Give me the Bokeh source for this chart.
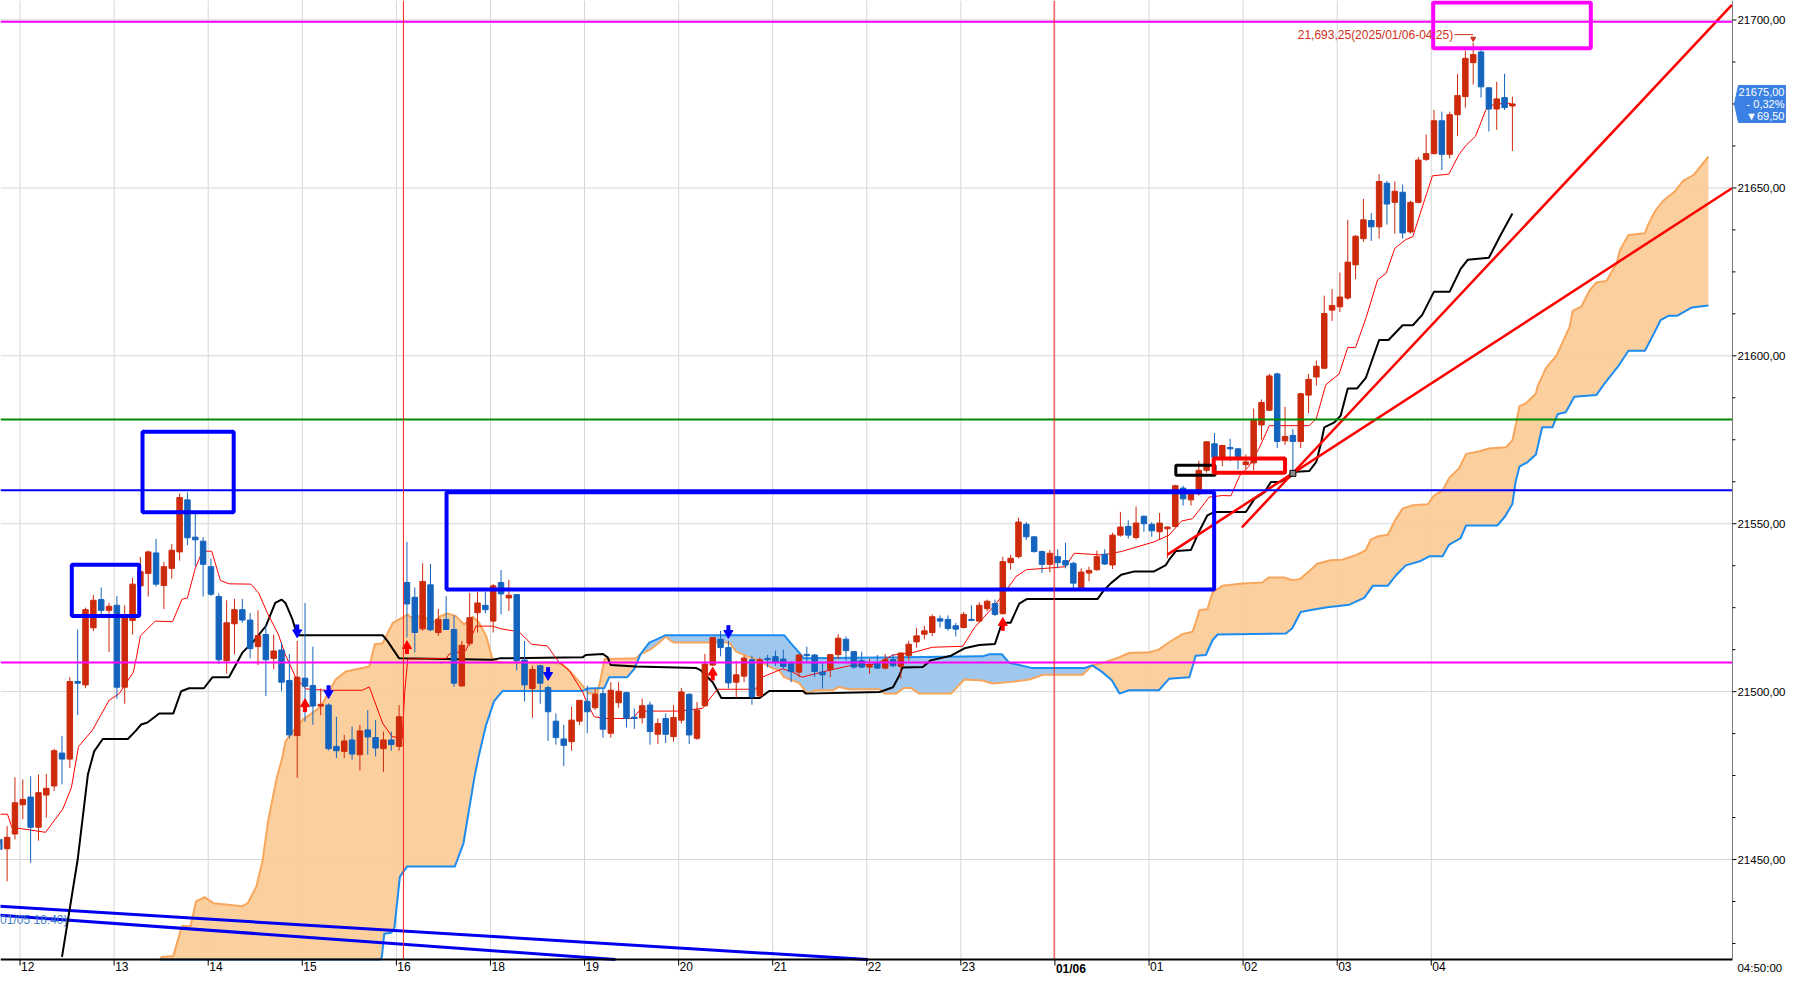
from bokeh.plotting import figure
from bokeh.models import Range1d, ColumnDataSource
from bokeh.core.properties import value
from bokeh.embed import file_html
from bokeh.resources import INLINE

FONT = "Liberation Sans"

# 5-minute bars, bar 0 = 12:00, first visible bar = -4
FIRST_BAR = -4
OPEN = [21454.5, 21456.0, 21453.2, 21457.6, 21466.3, 21468.6, 21459.6, 21469.2, 21471.9, 21481.7,
        21479.9, 21503.0, 21502.0, 21519.0, 21527.4, 21524.2, 21525.7, 21501.3, 21521.2, 21531.5,
        21535.2, 21541.3, 21531.6, 21536.7, 21541.6, 21557.1, 21546.0, 21544.8, 21537.2, 21528.3,
        21509.2, 21520.2, 21524.4, 21521.3, 21513.4, 21517.0, 21509.9, 21512.4, 21503.3, 21486.9,
        21504.0, 21501.8, 21495.7, 21496.0, 21483.7, 21482.2, 21485.6, 21481.2, 21488.6, 21486.3,
        21483.0, 21485.6, 21483.7, 21532.5, 21528.1, 21518.7, 21531.8, 21517.6, 21521.5, 21518.5,
        21501.7, 21514.4, 21523.5, 21525.7, 21521.0, 21532.5, 21527.9, 21528.9, 21509.4, 21500.9,
        21507.7, 21501.2, 21491.2, 21485.9, 21485.1, 21491.2, 21497.1, 21495.2, 21499.4, 21487.6,
        21496.7, 21499.7, 21492.4, 21492.2, 21496.0, 21487.3, 21492.0, 21486.6, 21491.5, 21499.2,
        21486.1, 21495.8, 21507.9, 21515.6, 21513.1, 21502.8, 21504.6, 21509.5, 21498.7, 21509.9,
        21510.4, 21509.7, 21508.7, 21505.8, 21511.1, 21510.9, 21505.8, 21506.6, 21511.0, 21515.6,
        21511.9, 21509.2, 21507.3, 21508.7, 21507.0, 21509.5, 21507.5, 21510.7, 21514.8, 21517.1,
        21517.6, 21521.7, 21521.5, 21519.6, 21519.1, 21521.5, 21521.0, 21524.7, 21526.2, 21523.2,
        21538.4, 21540.2, 21549.8, 21546.1, 21541.7, 21537.9, 21540.2, 21539.0, 21538.2, 21530.6,
        21535.3, 21536.3, 21540.9, 21537.7, 21546.6, 21549.2, 21545.9, 21552.2, 21549.8, 21547.6,
        21548.5, 21549.2, 21560.6, 21557.1, 21558.9, 21565.9, 21573.8, 21569.8, 21572.7, 21572.3,
        21567.6, 21568.1, 21579.4, 21583.8, 21594.6, 21574.7, 21576.3, 21574.5, 21588.3, 21593.7,
        21596.3, 21613.6, 21614.6, 21617.2, 21627.1, 21634.9, 21640.3, 21638.4, 21651.4, 21645.7,
        21648.7, 21636.9, 21645.7, 21658.5, 21660.2, 21670.0, 21660.0, 21671.8, 21677.2, 21687.3,
        21690.5, 21679.8, 21673.5, 21676.9, 21674.4]
HIGH = [21457.0, 21463.0, 21460.0, 21474.5, 21473.8, 21474.8, 21475.3, 21475.5, 21483.0, 21486.8,
        21504.3, 21518.5, 21525.0, 21528.8, 21531.0, 21526.4, 21528.5, 21525.7, 21533.9, 21540.1,
        21542.0, 21545.5, 21538.7, 21543.9, 21559.0, 21559.3, 21552.9, 21546.0, 21539.6, 21529.3,
        21527.2, 21527.6, 21527.6, 21523.4, 21524.2, 21519.7, 21517.0, 21514.6, 21511.2, 21515.1,
        21526.4, 21513.4, 21500.9, 21496.5, 21492.5, 21487.1, 21489.6, 21490.1, 21494.5, 21491.5,
        21488.1, 21488.1, 21496.0, 21544.6, 21531.0, 21538.2, 21538.0, 21524.6, 21528.4, 21522.7,
        21515.1, 21529.4, 21529.8, 21529.8, 21532.1, 21536.2, 21533.3, 21529.0, 21515.1, 21507.7,
        21508.0, 21501.8, 21493.5, 21490.1, 21495.5, 21497.5, 21501.8, 21500.9, 21500.9, 21502.8,
        21502.8, 21500.0, 21495.0, 21497.9, 21497.0, 21492.0, 21493.5, 21496.0, 21501.1, 21499.5,
        21496.9, 21511.2, 21516.2, 21518.1, 21515.1, 21509.2, 21510.7, 21510.7, 21510.2, 21510.9,
        21512.2, 21512.5, 21509.0, 21511.2, 21513.4, 21511.2, 21508.7, 21511.2, 21517.1, 21516.4,
        21512.0, 21511.9, 21509.7, 21510.9, 21511.2, 21511.2, 21511.6, 21515.1, 21519.0, 21519.6,
        21523.0, 21522.7, 21522.7, 21520.5, 21523.7, 21525.7, 21526.6, 21527.4, 21527.4, 21540.2,
        21540.7, 21551.8, 21550.5, 21546.2, 21542.0, 21542.2, 21542.4, 21544.3, 21538.7, 21536.7,
        21537.2, 21542.0, 21542.4, 21547.3, 21553.5, 21551.0, 21555.1, 21552.5, 21550.5, 21553.2,
        21549.2, 21561.6, 21561.3, 21559.4, 21568.7, 21574.5, 21577.0, 21573.5, 21575.3, 21572.5,
        21570.6, 21584.3, 21587.0, 21594.6, 21595.0, 21584.8, 21578.2, 21589.0, 21594.6, 21598.6,
        21617.9, 21619.9, 21624.8, 21640.5, 21636.0, 21646.7, 21642.5, 21654.1, 21652.1, 21651.9,
        21651.0, 21646.2, 21659.2, 21665.9, 21673.2, 21672.7, 21672.7, 21684.0, 21690.9, 21693.25,
        21691.0, 21680.0, 21681.6, 21684.0, 21677.2]
LOW = [21453.0, 21451.0, 21443.5, 21456.0, 21462.0, 21449.0, 21455.6, 21462.5, 21470.4, 21472.4,
       21477.3, 21493.0, 21501.0, 21518.0, 21522.9, 21511.8, 21497.9, 21496.4, 21517.0, 21528.3,
       21528.3, 21531.3, 21524.6, 21533.7, 21539.0, 21543.6, 21537.2, 21528.3, 21528.5, 21508.2,
       21505.3, 21511.1, 21520.5, 21509.9, 21507.9, 21498.7, 21506.7, 21500.1, 21486.1, 21474.3,
       21491.0, 21490.1, 21493.0, 21482.5, 21480.2, 21480.2, 21479.7, 21476.5, 21481.2, 21480.7,
       21476.1, 21482.4, 21482.4, 21516.1, 21511.7, 21518.1, 21518.0, 21516.6, 21518.4, 21501.4,
       21501.4, 21513.6, 21517.6, 21523.3, 21517.6, 21523.0, 21524.0, 21506.3, 21497.1, 21492.2,
       21496.4, 21485.3, 21484.2, 21477.8, 21482.4, 21490.0, 21487.6, 21494.5, 21486.3, 21486.3,
       21495.2, 21489.3, 21488.9, 21490.5, 21484.2, 21484.4, 21484.7, 21485.1, 21490.5, 21484.4,
       21485.6, 21495.5, 21507.7, 21510.5, 21500.9, 21498.1, 21502.8, 21496.1, 21498.4, 21507.2,
       21507.7, 21506.8, 21502.8, 21504.3, 21508.7, 21504.3, 21500.9, 21504.3, 21509.7, 21509.2,
       21506.8, 21507.0, 21505.3, 21506.8, 21506.6, 21507.2, 21503.8, 21509.2, 21513.1, 21515.6,
       21516.6, 21519.1, 21518.1, 21516.4, 21518.8, 21521.0, 21520.5, 21524.0, 21522.5, 21523.0,
       21536.3, 21539.7, 21545.1, 21541.4, 21535.3, 21535.5, 21536.7, 21536.7, 21530.4, 21530.4,
       21532.8, 21536.0, 21537.7, 21536.5, 21546.1, 21545.6, 21545.3, 21547.6, 21546.1, 21545.1,
       21539.7, 21549.0, 21555.4, 21555.4, 21558.4, 21565.2, 21568.7, 21567.1, 21568.6, 21566.2,
       21566.2, 21565.9, 21575.0, 21583.5, 21572.5, 21573.5, 21564.7, 21572.5, 21582.9, 21591.2,
       21596.0, 21610.4, 21613.0, 21616.7, 21622.8, 21633.9, 21634.2, 21634.9, 21639.1, 21636.4,
       21634.9, 21636.4, 21645.4, 21658.0, 21660.0, 21655.3, 21658.8, 21665.4, 21673.9, 21680.8,
       21676.9, 21666.8, 21667.3, 21673.2, 21661.0]
CLOSE = [21455.8, 21453.0, 21456.6, 21466.9, 21467.9, 21459.6, 21469.9, 21471.2, 21482.4, 21479.9,
         21503.0, 21502.5, 21524.4, 21527.2, 21524.2, 21525.4, 21501.3, 21522.0, 21532.0, 21535.7,
         21541.6, 21532.0, 21537.2, 21542.1, 21557.8, 21545.8, 21545.2, 21537.9, 21529.0, 21509.5,
         21520.5, 21524.4, 21521.3, 21512.8, 21516.7, 21509.5, 21512.1, 21502.8, 21487.1, 21504.3,
         21501.6, 21495.7, 21496.2, 21483.0, 21482.4, 21485.3, 21481.4, 21488.3, 21486.5, 21483.2,
         21485.6, 21484.2, 21492.5, 21526.1, 21517.6, 21532.8, 21518.4, 21521.5, 21518.5, 21502.5,
         21513.8, 21522.0, 21526.4, 21524.4, 21531.5, 21529.1, 21528.7, 21509.2, 21502.0, 21506.6,
         21502.5, 21494.0, 21486.3, 21484.0, 21491.5, 21497.4, 21494.0, 21499.2, 21488.8, 21500.4,
         21500.1, 21492.0, 21492.0, 21495.8, 21488.1, 21490.5, 21487.3, 21492.3, 21499.9, 21487.1,
         21494.5, 21508.2, 21516.1, 21513.1, 21502.6, 21505.0, 21510.0, 21498.4, 21509.5, 21509.5,
         21508.7, 21507.5, 21506.0, 21510.9, 21510.7, 21506.0, 21505.0, 21511.0, 21515.9, 21512.2,
         21507.3, 21507.3, 21507.8, 21507.0, 21509.5, 21507.7, 21511.5, 21514.1, 21516.6, 21518.1,
         21522.3, 21521.0, 21518.8, 21518.6, 21523.0, 21521.2, 21525.7, 21526.9, 21523.0, 21538.7,
         21539.7, 21550.5, 21546.1, 21541.7, 21537.9, 21541.2, 21538.4, 21537.7, 21532.3, 21535.6,
         21536.1, 21540.2, 21538.0, 21546.6, 21549.0, 21546.6, 21550.2, 21550.0, 21547.9, 21550.2,
         21549.0, 21561.3, 21557.4, 21558.9, 21565.9, 21574.4, 21569.8, 21573.3, 21572.3, 21569.8,
         21568.4, 21580.9, 21586.1, 21594.0, 21574.5, 21576.0, 21574.5, 21588.7, 21593.0, 21596.9,
         21612.6, 21615.0, 21617.5, 21627.9, 21635.6, 21640.5, 21638.4, 21651.9, 21645.2, 21649.0,
         21636.6, 21645.7, 21658.3, 21660.2, 21670.0, 21660.0, 21671.8, 21677.5, 21688.6, 21689.7,
         21680.1, 21673.5, 21676.5, 21673.9, 21675.0]

# x-axis hour labels (one per 12 bars), last bar time, session / day breaks
HOUR_LABELS = ["12", "13", "14", "15", "16", "18", "19", "20", "21", "22", "23",
               "01/06", "01", "02", "03", "04"]
LAST_TIME = "04:50:00"
SESSION_BREAKS = [48.55, 131.55]

# price axis and last-price tag
PRICE_TICKS = [21450, 21500, 21550, 21600, 21650, 21700]
CHANGE_PCT = -0.32
CHANGE = -69.50

# ichimoku: conversion line (red), base line (black)
TENKAN_X = [-3.9, -3.0, -1.95, -1.4, 2.9, 5.1, 6.2, 7.1, 8.9, 11.0, 12.3, 14.1, 14.5, 15.0, 16.9, 19.1,
            20.3, 21.0, 22.0, 22.9, 24.1, 25.2, 26.3, 29.1, 30.1, 31.2, 32.6, 33.5, 34.8, 36.1, 38.7,
            43.3, 44.2, 45.9, 47.1, 48.4, 48.7, 49.1, 54.0, 54.4, 56.5, 57.8, 59.9, 61.0, 63.3, 64.9,
            66.9, 68.4, 69.7, 71.4, 72.2, 72.9, 74.4, 77.8, 78.6, 83.7, 86.7, 87.8, 88.6, 93.5, 94.3,
            96.9, 98.2, 99.4, 101.9, 105.4, 108.8, 111.0, 113.3, 116.0, 119.9, 121.4, 123.7, 124.9,
            126.7, 128.0, 130.9, 133.0, 134.1, 137.7, 140.1, 144.3, 146.2, 147.8, 149.2, 150.5, 151.3,
            153.0, 154.1, 155.2, 156.4, 157.7, 159.0, 164.1, 165.0, 166.2, 167.9, 169.0, 170.0, 171.4,
            172.8, 173.9, 175.0, 176.4, 177.3, 178.7, 179.8, 181.9, 183.2, 184.1, 185.3, 186.6, 187.7,
            189.8]
TENKAN_Y = [21464.7, 21463.5, 21463.5, 21459.6, 21458.1, 21465.0, 21471.4, 21483.6, 21488.6, 21497.4,
            21499.4, 21505.8, 21510.2, 21516.6, 21521.0, 21520.8, 21527.5, 21527.9, 21536.7, 21541.8,
            21541.8, 21533.1, 21532.1, 21532.0, 21529.3, 21523.4, 21517.0, 21510.9, 21504.3, 21500.8,
            21500.4, 21500.4, 21501.4, 21490.6, 21486.6, 21486.1, 21499.4, 21509.7, 21509.9, 21511.2,
            21512.2, 21519.5, 21519.5, 21518.7, 21517.8, 21514.1, 21513.6, 21508.7, 21506.3, 21499.9,
            21495.5, 21492.5, 21492.0, 21492.0, 21494.2, 21494.2, 21495.0, 21498.4, 21500.7, 21500.7,
            21504.3, 21506.8, 21505.8, 21504.3, 21505.8, 21507.7, 21508.2, 21510.9, 21511.5, 21513.2,
            21513.5, 21519.1, 21525.0, 21528.4, 21534.3, 21536.3, 21536.8, 21537.2, 21541.2, 21540.7,
            21541.7, 21544.6, 21546.6, 21550.8, 21551.5, 21555.4, 21557.9, 21558.4, 21558.3, 21564.2,
            21567.1, 21572.5, 21579.2, 21579.2, 21581.4, 21591.4, 21594.6, 21602.5, 21602.5, 21611.8,
            21622.6, 21624.6, 21632.0, 21634.6, 21635.5, 21645.7, 21653.6, 21654.1, 21660.0, 21662.7,
            21665.4, 21673.2, 21675.0, 21675.2]
KIJUN_X = [5.0, 7.0, 8.3, 9.1, 10.2, 13.4, 14.4, 15.1, 15.9, 17.4, 19.2, 20.2, 21.2, 23.1, 24.2, 26.3,
           28.0, 29.3, 31.0, 32.2, 33.0, 33.5, 34.4, 35.0, 45.9, 46.5, 48.0, 59.9, 60.8, 71.4, 71.8,
           74.0, 74.6, 75.0, 78.2, 85.9, 86.5, 88.0, 89.1, 94.0, 95.2, 99.5, 99.9, 109.3, 111.0, 111.8,
           112.2, 114.8, 115.8, 118.4, 120.1, 122.0, 124.0, 124.9, 126.0, 127.1, 128.1, 137.1, 137.9,
           138.8, 140.1, 141.8, 144.3, 145.8, 146.2, 147.1, 149.0, 150.1, 151.1, 152.0, 156.0, 157.1,
           158.4, 159.2, 160.3, 161.6, 162.4, 164.1, 165.0, 165.6, 166.0, 167.3, 168.1, 169.0, 170.2,
           171.3, 173.0, 174.2, 176.0, 177.3, 178.5, 180.0, 182.0, 183.4, 184.3, 187.0, 188.5, 190.0]
KIJUN_Y = [21421.0, 21450.0, 21475.3, 21482.2, 21485.9, 21485.9, 21488.3, 21490.2, 21490.8, 21493.5,
           21493.5, 21500.1, 21501.0, 21501.0, 21504.3, 21504.3, 21511.6, 21514.6, 21519.5, 21526.4,
           21527.4, 21526.4, 21521.5, 21516.8, 21516.8, 21515.1, 21509.9, 21509.5, 21509.9, 21510.2,
           21510.9, 21511.2, 21510.2, 21507.9, 21507.5, 21507.0, 21506.3, 21502.8, 21498.1, 21498.1,
           21500.2, 21500.2, 21499.4, 21499.9, 21501.3, 21504.8, 21507.2, 21507.3, 21509.3, 21510.7,
           21512.9, 21513.9, 21514.2, 21520.5, 21520.5, 21526.2, 21527.6, 21527.6, 21530.2, 21532.3,
           21534.8, 21535.8, 21535.8, 21537.7, 21539.2, 21541.9, 21542.2, 21548.0, 21552.5, 21553.5,
           21553.5, 21557.4, 21559.4, 21562.4, 21562.4, 21563.9, 21565.5, 21565.7, 21568.5, 21574.1,
           21578.7, 21580.2, 21582.2, 21590.3, 21590.3, 21593.4, 21604.7, 21604.7, 21609.1, 21609.1,
           21612.2, 21619.1, 21619.1, 21625.9, 21628.6, 21629.2, 21636.0, 21642.4]

# leading spans (shifted 26 bars ahead)
SPAN_ORANGE_X = [17.5, 17.7, 19.2, 20.3, 21.4, 22.1, 23.2, 24.3, 28.0, 28.7, 29.8, 30.6, 31.3, 32.4,
                 33.1, 33.5, 34.4, 35.7, 38.0, 39.9, 41.2, 44.2, 44.9, 45.9, 47.2, 48.4, 49.1, 49.5,
                 50.0, 51.4, 52.3, 53.3, 54.2, 55.2, 56.3, 57.4, 58.2, 59.1, 59.9, 60.8, 67.6, 68.8,
                 70.1, 71.4, 72.2, 73.3, 73.7, 74.2, 78.2, 78.8, 80.1, 81.2, 82.0, 82.6, 83.1, 90.1,
                 91.0, 92.2, 93.9, 95.6, 96.5, 97.1, 99.0, 99.9, 100.5, 101.1, 103.3, 104.1, 105.4,
                 109.3, 109.9, 111.4, 112.4, 113.3, 114.3, 118.4, 119.0, 120.1, 122.4, 123.7, 126.2,
                 128.4, 130.1, 135.2, 136.4, 138.6, 139.8, 141.1, 143.7, 144.9, 146.2, 147.9, 149.2,
                 149.6, 150.1, 151.1, 151.75, 153.0, 155.6, 158.1, 158.9, 160.9, 161.9, 162.9, 164.1,
                 165.1, 166.8, 168.3, 170.0, 171.3, 171.9, 172.8, 174.1, 175.1, 176.0, 177.3, 179.2,
                 180.0, 181.1, 181.9, 183.2, 184.1, 185.8, 187.0, 189.2, 190.0, 190.5, 190.9, 191.7,
                 193.0, 193.2, 194.3, 195.6, 196.4, 197.3, 197.7, 198.8, 199.8, 200.7, 202.0, 202.6,
                 203.3, 203.7, 204.8, 206.9, 207.3, 208.2, 209.2, 210.7, 211.8, 213.1, 214.3, 215.0]
SPAN_ORANGE_Y = [21410.0, 21421.0, 21421.3, 21430.2, 21430.2, 21437.5, 21438.8, 21437.0, 21436.1,
                 21437.0, 21442.0, 21449.8, 21461.6, 21474.4, 21480.3, 21485.1, 21488.1, 21491.6,
                 21495.5, 21503.6, 21506.0, 21507.5, 21514.1, 21514.4, 21520.5, 21522.0, 21523.0,
                 21522.0, 21522.7, 21522.0, 21520.5, 21522.5, 21523.3, 21522.5, 21520.0, 21522.3,
                 21520.5, 21516.6, 21509.7, 21508.7, 21508.7, 21508.2, 21505.3, 21501.8, 21499.4,
                 21499.4, 21503.8, 21509.7, 21509.9, 21511.2, 21512.6, 21514.6, 21516.4, 21515.2,
                 21514.6, 21514.6, 21511.9, 21510.7, 21509.2, 21507.0, 21506.3, 21504.3, 21502.6,
                 21499.9, 21499.7, 21500.4, 21500.4, 21501.4, 21500.7, 21500.7, 21499.4, 21499.4,
                 21501.1, 21501.1, 21499.4, 21499.4, 21500.9, 21503.6, 21503.3, 21502.4, 21502.9,
                 21503.6, 21505.0, 21505.0, 21507.8, 21509.2, 21510.2, 21511.5, 21511.7, 21512.5,
                 21514.7, 21517.1, 21517.8, 21520.5, 21524.3, 21524.5, 21529.5, 21531.5, 21532.2,
                 21532.5, 21534.0, 21534.0, 21533.2, 21533.5, 21535.9, 21538.1, 21539.1, 21539.3,
                 21540.6, 21542.1, 21545.2, 21546.2, 21546.7, 21551.3, 21554.5, 21555.5, 21555.8,
                 21558.4, 21559.9, 21563.5, 21566.5, 21570.8, 21571.6, 21572.4, 21572.8, 21574.8,
                 21580.2, 21585.0, 21585.8, 21588.8, 21590.8, 21596.4, 21600.0, 21604.0, 21608.6,
                 21613.4, 21614.7, 21619.3, 21621.8, 21622.3, 21624.8, 21627.4, 21631.4, 21636.0,
                 21636.5, 21639.0, 21643.1, 21646.1, 21648.9, 21652.2, 21653.8, 21657.3, 21659.3]
SPAN_BLUE_X = [17.5, 45.6, 45.8, 46.1, 47.0, 47.4, 48.1, 49.0, 55.1, 56.2, 57.6, 58.1, 59.1, 60.1, 61.2,
               71.4, 72.0, 74.2, 74.8, 77.1, 78.0, 78.8, 79.9, 80.7, 82.0, 97.1, 97.9, 99.0, 99.6,
               112.2, 122.4, 123.3, 124.9, 125.8, 128.8, 135.4, 136.4, 137.7, 138.9, 139.9, 141.1,
               144.9, 146.2, 148.8, 149.6, 150.9, 151.75, 152.4, 161.1, 161.9, 163.0, 164.5, 166.4,
               169.2, 171.1, 172.2, 174.1, 175.1, 176.4, 178.3, 179.4, 181.1, 181.9, 183.4, 184.1,
               188.1, 189.1, 190.0, 190.4, 190.9, 191.9, 193.0, 193.8, 195.1, 195.8, 196.8, 197.9,
               200.7, 201.8, 203.5, 204.8, 206.9, 207.8, 208.9, 209.9, 211.0, 212.9, 215.0]
SPAN_BLUE_Y = [21380.0, 21380.0, 21421.0, 21427.9, 21428.2, 21429.7, 21444.9, 21447.9, 21447.9, 21454.7,
               21474.4, 21480.2, 21490.1, 21497.1, 21500.2, 21500.2, 21500.9, 21501.1, 21504.3, 21504.3,
               21506.8, 21511.2, 21514.6, 21515.4, 21516.8, 21516.8, 21514.6, 21511.7, 21509.9, 21510.2,
               21510.5, 21511.1, 21511.1, 21508.6, 21507.0, 21507.0, 21507.8, 21505.8, 21503.4, 21499.4,
               21500.4, 21500.4, 21503.8, 21504.3, 21510.7, 21510.9, 21515.3, 21517.0, 21517.3, 21518.8,
               21523.7, 21524.4, 21525.1, 21525.9, 21527.9, 21531.5, 21531.5, 21534.5, 21537.6, 21538.9,
               21540.3, 21540.3, 21543.7, 21545.7, 21549.5, 21549.5, 21552.3, 21555.9, 21562.4, 21567.0,
               21568.3, 21570.6, 21578.7, 21578.7, 21582.7, 21583.2, 21587.8, 21588.3, 21591.9, 21596.9,
               21601.5, 21601.5, 21605.5, 21610.6, 21611.9, 21611.9, 21614.4, 21615.0]
BLUE_CLOUD_RANGES = [(71.9, 73.5), (78.8, 136.4)]

# buy / sell signal arrows
UP_SIGNAL_X = [36, 49, 88, 125]
UP_SIGNAL_Y = [21495.4, 21512.7, 21504.8, 21519.6]
DOWN_SIGNAL_X = [35, 39, 67, 90]
DOWN_SIGNAL_Y = [21518.5, 21500.4, 21505.8, 21518.3]

# drawn objects: horizontal levels, trend lines, channel lines, boxes
LEVEL_MAGENTA = [21699.5, 21508.7]
LEVEL_GREEN = 21581.0
LEVEL_BLUE = 21560.0
TREND_X0 = [155.5, 146.0]
TREND_Y0 = [21548.9, 21540.8]
TREND_X1 = [218.0, 218.0]
TREND_Y1 = [21704.5, 21649.9]
TREND_ANCHOR = (162, 21565.0)
CHANNEL_X0 = [-3.9, -3.9]
CHANNEL_Y0 = [21436.2, 21433.6]
CHANNEL_X1 = [107.8, 75.6]
CHANNEL_Y1 = [21420.2, 21420.2]
CHANNEL_NOTE = "(2025/01/05 18:40)"
CHANNEL_NOTE_AT = (5.7, 21432.0)
BLUE_BOX_L = [6.25, 15.27, 54.05]
BLUE_BOX_R = [14.85, 26.9, 151.96]
BLUE_BOX_B = [21522.5, 21553.4, 21530.4]
BLUE_BOX_T = [21537.8, 21577.4, 21559.4]
BLACK_BOX = (147.07, 152.07, 21564.4, 21567.4)
RED_BOX = (151.9, 161.0, 21565.2, 21569.4)
MAGENTA_BOX = (179.9, 200.0, 21691.6, 21705.2)
HIGH_BAR = 185
HIGH_TIME = "2025/01/06-04:25"

RED = "#cd2a0c"
BLUE = "#1464be"
GRID = "#d6d6d6"
TAG = "#3b80e3"

# screen geometry: 7.84 px per bar, 3.358 px per point
W, H = 1787, 978
PX_X = 1 / 7.84
PX_Y = 1 / 3.358
X_LEFT = -2.844
X_RIGHT = X_LEFT + W * PX_X
X_AXIS = 218.07
Y_TOP = 21705.81
Y_BOTTOM = Y_TOP - H * PX_Y
Y_AXIS = 21420.2

p = figure(width=W, height=H, x_range=Range1d(X_LEFT, X_RIGHT), y_range=Range1d(Y_BOTTOM, Y_TOP),
           output_backend="svg", toolbar_location=None,
           min_border_left=0, min_border_top=0, min_border_right=0, min_border_bottom=0)
p.axis.visible = False
p.grid.visible = False
p.outline_line_color = None
p.background_fill_color = "white"

hour_ticks = [12 * k - 0.35 for k in range(len(HOUR_LABELS))]
minor_ticks = [PRICE_TICKS[0] - 25 + 12.5 * k for k in range(int((PRICE_TICKS[-1] - PRICE_TICKS[0]) / 12.5) + 3)]

# ---- grid ----
p.segment(hour_ticks, [Y_AXIS] * len(hour_ticks), hour_ticks, [Y_TOP] * len(hour_ticks),
          line_color=GRID, line_width=1)
p.segment([X_LEFT] * len(PRICE_TICKS), PRICE_TICKS, [X_AXIS] * len(PRICE_TICKS), PRICE_TICKS,
          line_color=GRID, line_width=1)

# ---- ichimoku cloud ----
blue_y = [max(y, Y_AXIS) for y in SPAN_BLUE_Y]
orange_y = [max(y, Y_AXIS) for y in SPAN_ORANGE_Y]
p.patch(SPAN_ORANGE_X + SPAN_BLUE_X[::-1], orange_y + blue_y[::-1],
        fill_color="#fcca94", fill_alpha=0.9, line_color=None)
for a, b in BLUE_CLOUD_RANGES:
    ox = [(x, y) for x, y in zip(SPAN_ORANGE_X, SPAN_ORANGE_Y) if a <= x <= b]
    bx = [(x, y) for x, y in zip(SPAN_BLUE_X, SPAN_BLUE_Y) if a <= x <= b][::-1]
    pts = ox + bx
    p.patch([q[0] for q in pts], [q[1] for q in pts], fill_color="#98c8f6",
            fill_alpha=0.92, line_color=None)
p.line(SPAN_ORANGE_X, orange_y, line_color="#f8a65c", line_width=2)
p.line(SPAN_BLUE_X, blue_y, line_color="#1c8cf0", line_width=2)

# channel lines and their note
p.segment(CHANNEL_X0, CHANNEL_Y0, CHANNEL_X1, CHANNEL_Y1, line_color="#0000ee", line_width=3)
p.text([CHANNEL_NOTE_AT[0]], [CHANNEL_NOTE_AT[1]], text=[CHANNEL_NOTE], text_align="right",
       text_baseline="middle", text_font=value(FONT), text_font_size="12px", text_color="#3f7fc8")

# ---- ichimoku lines ----
p.line(KIJUN_X, KIJUN_Y, line_color="black", line_width=2)
p.line(TENKAN_X, TENKAN_Y, line_color="#ff0000", line_width=1)

# ---- candles ----
bars = list(range(FIRST_BAR, FIRST_BAR + len(OPEN)))
src = ColumnDataSource(dict(
    x=bars, high=HIGH, low=LOW,
    top=[max(o, c) for o, c in zip(OPEN, CLOSE)],
    bottom=[min(o, c) for o, c in zip(OPEN, CLOSE)],
    color=[RED if c >= o else BLUE for o, c in zip(OPEN, CLOSE)]))
p.segment(x0="x", y0="low", x1="x", y1="high", line_color="color", line_width=1, source=src)
p.vbar(x="x", width=0.7, top="top", bottom="bottom", fill_color="color",
       line_color="color", line_width=1, source=src)

# ---- signal arrows ----
p.segment(UP_SIGNAL_X, [y - 5 * PX_Y for y in UP_SIGNAL_Y], UP_SIGNAL_X, [y + 1 * PX_Y for y in UP_SIGNAL_Y],
          line_color="#ff0000", line_width=4)
p.scatter(UP_SIGNAL_X, [y + 3 * PX_Y for y in UP_SIGNAL_Y], marker="triangle", size=9,
          fill_color="#ff0000", line_color="#ff0000")
p.segment(DOWN_SIGNAL_X, [y + 5 * PX_Y for y in DOWN_SIGNAL_Y], DOWN_SIGNAL_X, [y - 1 * PX_Y for y in DOWN_SIGNAL_Y],
          line_color="#0000ff", line_width=4)
p.scatter(DOWN_SIGNAL_X, [y - 3 * PX_Y for y in DOWN_SIGNAL_Y], marker="inverted_triangle", size=9,
          fill_color="#0000ff", line_color="#0000ff")

# ---- trend lines ----
p.segment(TREND_X0, TREND_Y0, TREND_X1, TREND_Y1, line_color="#ff0000", line_width=2.5)
p.scatter([TREND_ANCHOR[0]], [TREND_ANCHOR[1]], marker="square", size=6,
          fill_color="#8a8a8a", line_color="black")

# ---- boxes ----
p.quad(left=BLUE_BOX_L, right=BLUE_BOX_R, bottom=BLUE_BOX_B, top=BLUE_BOX_T,
       fill_color=None, line_color="#0000ff", line_width=4)
for box, col, w in [(BLACK_BOX, "black", 3), (RED_BOX, "#ff0000", 4), (MAGENTA_BOX, "#ff00ff", 4)]:
    p.quad(left=[box[0]], right=[box[1]], bottom=[box[2]], top=[box[3]],
           fill_color=None, line_color=col, line_width=w)

# ---- horizontal levels and session breaks ----
for lv, col in [(LEVEL_MAGENTA[0], "#ff00ff"), (LEVEL_MAGENTA[1], "#ff00ff"),
                (LEVEL_GREEN, "#008a00"), (LEVEL_BLUE, "#0000ff")]:
    p.segment([X_LEFT], [lv], [X_AXIS], [lv], line_color=col, line_width=2)
p.segment(SESSION_BREAKS, [Y_AXIS] * len(SESSION_BREAKS), SESSION_BREAKS, [Y_TOP] * len(SESSION_BREAKS),
          line_color="#ff2020", line_width=1)

# ---- high annotation ----
hi_val = HIGH[HIGH_BAR - FIRST_BAR]
hi_text = f"{hi_val:,.2f}".replace(".", ",") + f"({HIGH_TIME})"
note_y = hi_val + 2.4
p.text([HIGH_BAR - 2.55], [note_y], text=[hi_text], text_align="right", text_baseline="middle",
       text_font=value(FONT), text_font_size="12px", text_color="#d0301a")
p.segment([HIGH_BAR - 2.4], [note_y], [HIGH_BAR], [note_y], line_color="#d0301a", line_width=1)
p.scatter([HIGH_BAR], [note_y - 1.2], marker="inverted_triangle", size=5,
          fill_color="#d0301a", line_color="#d0301a")

# ---- axes (drawn by hand so the right and bottom margins can carry labels) ----
p.segment([X_LEFT], [Y_AXIS], [X_AXIS], [Y_AXIS], line_color="black", line_width=2)
p.segment([X_AXIS], [Y_AXIS], [X_AXIS], [Y_TOP], line_color="#777777", line_width=1)
p.segment(hour_ticks, [Y_AXIS] * len(hour_ticks), hour_ticks, [Y_AXIS - 6 * PX_Y] * len(hour_ticks),
          line_color="black", line_width=1)
p.segment([X_AXIS] * len(PRICE_TICKS), PRICE_TICKS, [X_AXIS + 4 * PX_X] * len(PRICE_TICKS), PRICE_TICKS,
          line_color="black", line_width=1)
minor_in = [t for t in minor_ticks if Y_AXIS < t < Y_TOP and t not in PRICE_TICKS]
p.segment([X_AXIS] * len(minor_in), minor_in, [X_AXIS + 3 * PX_X] * len(minor_in), minor_in,
          line_color="black", line_width=1)

lab_y = Y_AXIS - 2 * PX_Y
plain = [(t, s) for t, s in zip(hour_ticks, HOUR_LABELS) if "/" not in s]
dated = [(t, s) for t, s in zip(hour_ticks, HOUR_LABELS) if "/" in s]
p.text([t + 1 * PX_X for t, _ in plain], [lab_y] * len(plain), text=[s for _, s in plain],
       text_align="left", text_baseline="top", text_font=value(FONT), text_font_size="12px",
       text_color="black")
p.text([t + 1 * PX_X for t, _ in dated], [lab_y] * len(dated), text=[s for _, s in dated],
       text_align="left", text_baseline="top", text_font=value(FONT), text_font_size="12px",
       text_font_style="bold", text_color="black")
p.text([X_AXIS + 5 * PX_X], [lab_y], text=[LAST_TIME], text_align="left", text_baseline="top",
       text_font=value(FONT), text_font_size="11.5px", text_color="black")
p.text([X_AXIS + 5 * PX_X] * len(PRICE_TICKS), PRICE_TICKS,
       text=[f"{t:.2f}".replace(".", ",") for t in PRICE_TICKS],
       text_align="left", text_baseline="middle", text_font=value(FONT), text_font_size="11.5px",
       text_color="black")

# ---- last price tag ----
last = CLOSE[-1]
tx0, tx1, tx2 = X_AXIS + 2 * PX_X, X_AXIS + 6 * PX_X, X_AXIS + 53 * PX_X
ty0, ty1 = last - 18.5 * PX_Y, last + 18.5 * PX_Y
p.patch([tx0, tx1, tx2, tx2, tx1], [last, ty1, ty1, ty0, ty0], fill_color=TAG, line_color=TAG)
tag_rows = [f"{last:.2f}".replace(".", ","),
            f"- {abs(CHANGE_PCT):.2f}%".replace(".", ","),
            ("\u25bc" if CHANGE < 0 else "\u25b2") + f"{abs(CHANGE):.2f}".replace(".", ",")]
p.text([X_AXIS + 52 * PX_X] * 3, [last + 12 * PX_Y, last, last - 12 * PX_Y], text=tag_rows,
       text_align="right", text_baseline="middle", text_font=value(FONT), text_font_size="11px",
       text_color="white")

open("out.html", "w").write(file_html(p, INLINE))
